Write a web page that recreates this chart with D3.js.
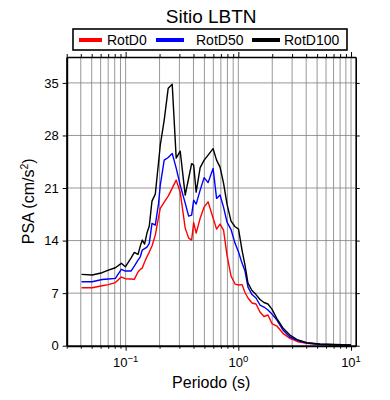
<!DOCTYPE html>
<html>
<head>
<meta charset="utf-8">
<script src="https://cdn.jsdelivr.net/npm/d3@7"></script>
<style>
  body { margin: 0; background: #fff; }
  svg { font-family: "Liberation Sans", Arial, Helvetica, sans-serif; }
</style>
</head>
<body>
<div id="chart"></div>
<script>
// Periods (s) and spectral accelerations (cm/s^2)
const periods = [0.0406, 0.0505, 0.0618, 0.0703, 0.0811, 0.0916, 0.0994, 0.1116, 0.1194, 0.1288,
  0.1349, 0.1405, 0.1473, 0.1546, 0.1621, 0.1713, 0.1833, 0.196, 0.2029, 0.2199,
  0.2387, 0.259, 0.281, 0.3049, 0.3377, 0.3624, 0.3852, 0.4015, 0.4225, 0.4584,
  0.4972, 0.5392, 0.5971, 0.6411, 0.6884, 0.7391, 0.7936, 0.8616, 0.9354, 1.004,
  1.078, 1.146, 1.218, 1.322, 1.435, 1.557, 1.688, 1.832, 1.987, 2.199,
  2.486, 2.869, 3.375, 4.053, 5.284, 7.176, 10];

const rotD0 = [7.72, 7.72, 7.98, 8.14, 8.41, 9.14, 8.92, 8.89, 8.84, 9.81,
  10.17, 10.34, 11.14, 11.84, 12.47, 13.27, 14.73, 17.13, 18.29, 19.12,
  19.92, 20.99, 22.05, 20.46, 15.66, 14.33, 14.07, 16.4, 15.0, 16.96,
  18.46, 19.16, 17.0, 15.53, 16.2, 15.4, 12.07, 9.28, 8.21, 8.08,
  8.14, 7.08, 6.35, 5.68, 5.55, 4.48, 3.89, 4.09, 2.95, 2.62,
  1.65, 0.98, 0.53, 0.32, 0.16, 0.09, 0.07];

const rotD50 = [8.52, 8.52, 8.81, 8.88, 8.97, 10.17, 9.94, 9.94, 10.6, 11.4,
  11.84, 12.74, 12.94, 13.14, 13.63, 16.29, 16.06, 18.95, 21.39, 24.71,
  25.07, 25.61, 23.65, 21.39, 18.99, 17.26, 17.39, 19.39, 18.86, 20.72,
  22.38, 21.72, 23.61, 19.62, 20.06, 18.46, 16.46, 15.46, 13.63, 12.47,
  11.0, 9.94, 7.81, 6.81, 6.35, 5.42, 5.15, 4.75, 4.22, 3.42,
  2.09, 1.16, 0.69, 0.36, 0.19, 0.12, 0.08];

const rotD100 = [9.5, 9.41, 9.72, 10.07, 10.38, 10.97, 10.51, 11.67, 12.43, 12.16,
  13.27, 14.07, 13.53, 15.0, 15.93, 19.26, 20.19, 24.45, 26.7, 30.04,
  34.3, 34.83, 24.98, 25.91, 20.06, 22.3, 24.25, 24.05, 20.45, 23.72,
  24.71, 25.38, 26.24, 24.71, 23.78, 21.65, 18.86, 16.6, 15.84, 15.53,
  12.74, 10.74, 8.34, 7.35, 6.81, 6.15, 5.75, 5.55, 4.88, 3.62,
  2.36, 1.42, 0.76, 0.4, 0.23, 0.16, 0.1];

const seriesNames = ['RotD0', 'RotD50', 'RotD100'];
const seriesColors = ['#ff0000', '#0000ff', '#000000'];
const yTicks = [0, 7, 14, 21, 28, 35];
const xLabelTicks = [0.1, 1, 10];

const width = 390;
const height = 400;
const margin = { top: 57, right: 34.3, bottom: 54.3, left: 66.7 };
const chartWidth = width - margin.left - margin.right;
const chartHeight = height - margin.top - margin.bottom;

const svg = d3.select('#chart')
  .append('svg')
  .attr('width', width)
  .attr('height', height);

const x = d3.scaleLog().domain([0.03, 11]).range([0, chartWidth]);
const y = d3.scaleLinear().domain([0, 38.45]).range([chartHeight, 0]);

const g = svg.append('g')
  .attr('transform', `translate(${margin.left}, ${margin.top})`);

// all log sub-ticks inside the domain
const logTicks = x.ticks().filter(t => t >= 0.03 && t <= 11);
const isMajor = t => xLabelTicks.includes(t);

// grid
g.append('g')
  .selectAll('line.vgrid')
  .data(logTicks)
  .enter()
  .append('line')
  .attr('x1', d => x(d))
  .attr('x2', d => x(d))
  .attr('y1', 0)
  .attr('y2', chartHeight)
  .attr('stroke', '#858585')
  .attr('stroke-width', 0.85);

g.append('g')
  .selectAll('line.hgrid')
  .data(yTicks.slice(1))
  .enter()
  .append('line')
  .attr('x1', 0)
  .attr('x2', chartWidth)
  .attr('y1', d => y(d))
  .attr('y2', d => y(d))
  .attr('stroke', '#858585')
  .attr('stroke-width', 0.85);

// curves
const line = d3.line()
  .x(d => x(d[0]))
  .y(d => y(d[1]));

[rotD0, rotD50, rotD100].forEach((vals, i) => {
  g.append('path')
    .datum(periods.map((p, j) => [p, vals[j]]))
    .attr('fill', 'none')
    .attr('stroke', seriesColors[i])
    .attr('stroke-width', 1.4)
    .attr('stroke-linejoin', 'round')
    .attr('d', line);
});

// axes (ticks outward on every side)
const styleAxis = (sel, w) => {
  sel.select('.domain').attr('stroke-width', w);
  sel.selectAll('.tick line').attr('stroke-width', 1);
};

const xBottom = g.append('g')
  .attr('transform', `translate(0, ${chartHeight})`)
  .call(d3.axisBottom(x).tickValues(logTicks).tickSize(3).tickSizeOuter(0).tickFormat(''));
styleAxis(xBottom, 2);
xBottom.selectAll('.tick line').attr('y2', d => (isMajor(d) ? 5 : 3));

const xTop = g.append('g')
  .call(d3.axisTop(x).tickValues(logTicks).tickSize(3).tickSizeOuter(0).tickFormat(''));
styleAxis(xTop, 1.6);
xTop.selectAll('.tick line').attr('y2', d => (isMajor(d) ? -5 : -3));

const yLeft = g.append('g')
  .call(d3.axisLeft(y).tickValues(yTicks).tickSize(4).tickSizeOuter(0).tickPadding(4));
styleAxis(yLeft, 2);
yLeft.selectAll('.tick text')
  .attr('font-size', 13)
  .attr('font-family', '"Liberation Sans", Arial, sans-serif')
  .attr('fill', '#000');

const yRight = g.append('g')
  .attr('transform', `translate(${chartWidth}, 0)`)
  .call(d3.axisRight(y).tickValues(yTicks).tickSize(4).tickSizeOuter(0).tickFormat(''));
styleAxis(yRight, 1.6);

// log tick labels with superscript exponents
const xLabels = g.append('g')
  .selectAll('text.xlab')
  .data(xLabelTicks)
  .enter()
  .append('text')
  .attr('x', d => x(d))
  .attr('y', chartHeight + 21)
  .attr('text-anchor', 'middle')
  .attr('font-size', 13);
xLabels.append('tspan').text('10');
xLabels.append('tspan')
  .attr('dy', -5)
  .attr('font-size', 9.5)
  .text(d => String(Math.round(Math.log10(d))).replace('-', '\u2212'));

// axis titles
svg.append('text')
  .attr('x', margin.left + chartWidth / 2)
  .attr('y', 388)
  .attr('text-anchor', 'middle')
  .attr('font-size', 16)
  .text('Periodo (s)');

const yTitle = svg.append('text')
  .attr('transform', `translate(34, ${margin.top + chartHeight / 2}) rotate(-90)`)
  .attr('text-anchor', 'middle')
  .attr('font-size', 16);
yTitle.append('tspan').text('PSA (cm/s');
yTitle.append('tspan').attr('dy', -6).attr('font-size', 10.5).text('2');
yTitle.append('tspan').attr('dy', 6).text(')');

// title
svg.append('text')
  .attr('x', margin.left + chartWidth / 2)
  .attr('y', 23)
  .attr('text-anchor', 'middle')
  .attr('font-size', 19)
  .text('Sitio LBTN');

// legend
const legend = svg.append('g');
legend.append('rect')
  .attr('x', 73)
  .attr('y', 29)
  .attr('width', 274)
  .attr('height', 21)
  .attr('fill', '#fff')
  .attr('stroke', '#000')
  .attr('stroke-width', 1.6);

const legendX = [79, 156, 252];
const swatchW = [23, 28, 28];
const textX = [107, 196, 284];
seriesNames.forEach((name, i) => {
  legend.append('line')
    .attr('x1', legendX[i])
    .attr('x2', legendX[i] + swatchW[i])
    .attr('y1', 40)
    .attr('y2', 40)
    .attr('stroke', seriesColors[i])
    .attr('stroke-width', 4);
  legend.append('text')
    .attr('x', textX[i])
    .attr('y', 45)
    .attr('font-size', 14)
    .text(name);
});
</script>
</body>
</html>
